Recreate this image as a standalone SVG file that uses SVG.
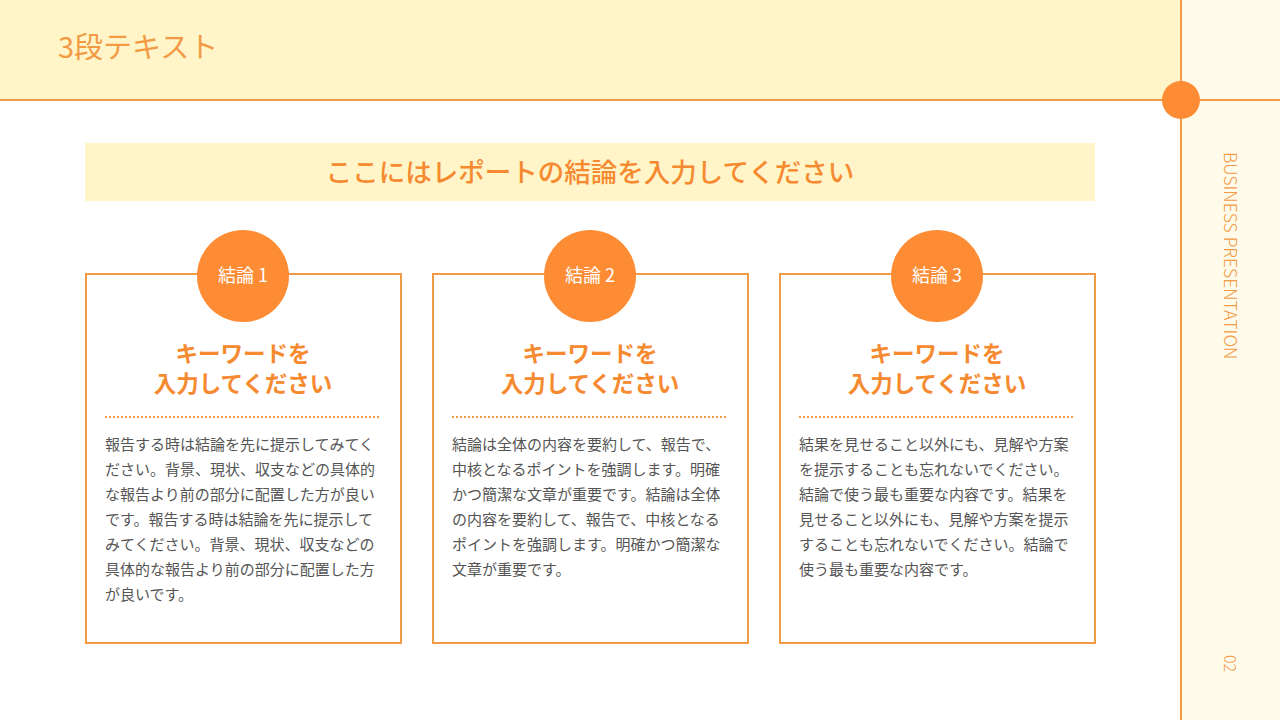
<svg xmlns="http://www.w3.org/2000/svg" width="1280" height="720" viewBox="0 0 1280 720">
<style>
text{font-family:"Noto Sans CJK JP","Noto Sans",sans-serif}
.card{fill:#fff;stroke:#f39a45;stroke-width:2}
.badge{fill:#fd8c35}
.bt{fill:#fff;font-size:18px;text-anchor:middle}
.kw{fill:#f68a30;font-size:22.5px;font-weight:bold;text-anchor:middle}
.dot{stroke:#f39a45;stroke-width:2;stroke-dasharray:2 2}
.body{fill:#555;font-size:15px}
</style>
<rect width="1280" height="720" fill="#fff"/>
<rect width="1181" height="100" fill="#fff5c8"/>
<rect x="1181" width="99" height="720" fill="#fffbea"/>
<line x1="0" y1="100" x2="1280" y2="100" stroke="#f39a45" stroke-width="2"/>
<line x1="1181" y1="0" x2="1181" y2="720" stroke="#f39a45" stroke-width="2"/>
<circle cx="1181" cy="100" r="19" fill="#fd8c35"/>
<text x="58" y="58" font-size="29" fill="#f39a45">3段テキスト</text>
<text transform="translate(1224,152) rotate(90)" font-size="17.5" fill="#f39a45" font-family="Noto Sans" font-weight="300">BUSINESS PRESENTATION</text>
<text transform="translate(1224,655) rotate(90)" font-size="16" fill="#f39a45" font-family="Noto Sans" font-weight="300">02</text>
<g id="conclusion">
<rect x="85" y="143" width="1010" height="58" fill="#fff5c8"/>
<text x="590" y="182" font-size="26.5" fill="#f68a30" font-weight="500" text-anchor="middle">ここにはレポートの結論を入力してください</text>
</g>
<g id="card1">
<rect class="card" x="86" y="274" width="315" height="369"/>
<circle class="badge" cx="243" cy="276" r="46"/>
<text class="bt" x="243" y="282">結論 1</text>
<text class="kw" x="243" y="362">キーワードを</text>
<text class="kw" x="243" y="392">入力してください</text>
<line class="dot" x1="105" y1="417" x2="380" y2="417"/>
<text class="body"><tspan x="105" y="450">報告する時は結論を先に提示してみてく</tspan><tspan x="105" y="475">ださい。背景、現状、収支などの具体的</tspan><tspan x="105" y="500">な報告より前の部分に配置した方が良い</tspan><tspan x="105" y="525">です。報告する時は結論を先に提示して</tspan><tspan x="105" y="550">みてください。背景、現状、収支などの</tspan><tspan x="105" y="575">具体的な報告より前の部分に配置した方</tspan><tspan x="105" y="600">が良いです。</tspan></text>
</g>
<g id="card2">
<rect class="card" x="433" y="274" width="315" height="369"/>
<circle class="badge" cx="590" cy="276" r="46"/>
<text class="bt" x="590" y="282">結論 2</text>
<text class="kw" x="590" y="362">キーワードを</text>
<text class="kw" x="590" y="392">入力してください</text>
<line class="dot" x1="452" y1="417" x2="727" y2="417"/>
<text class="body"><tspan x="452" y="450">結論は全体の内容を要約して、報告で、</tspan><tspan x="452" y="475">中核となるポイントを強調します。明確</tspan><tspan x="452" y="500">かつ簡潔な文章が重要です。結論は全体</tspan><tspan x="452" y="525">の内容を要約して、報告で、中核となる</tspan><tspan x="452" y="550">ポイントを強調します。明確かつ簡潔な</tspan><tspan x="452" y="575">文章が重要です。</tspan></text>
</g>
<g id="card3">
<rect class="card" x="780" y="274" width="315" height="369"/>
<circle class="badge" cx="937" cy="276" r="46"/>
<text class="bt" x="937" y="282">結論 3</text>
<text class="kw" x="937" y="362">キーワードを</text>
<text class="kw" x="937" y="392">入力してください</text>
<line class="dot" x1="799" y1="417" x2="1074" y2="417"/>
<text class="body"><tspan x="799" y="450">結果を見せること以外にも、見解や方案</tspan><tspan x="799" y="475">を提示することも忘れないでください。</tspan><tspan x="799" y="500">結論で使う最も重要な内容です。結果を</tspan><tspan x="799" y="525">見せること以外にも、見解や方案を提示</tspan><tspan x="799" y="550">することも忘れないでください。結論で</tspan><tspan x="799" y="575">使う最も重要な内容です。</tspan></text>
</g>
<g id="connectors"></g>
</svg>
